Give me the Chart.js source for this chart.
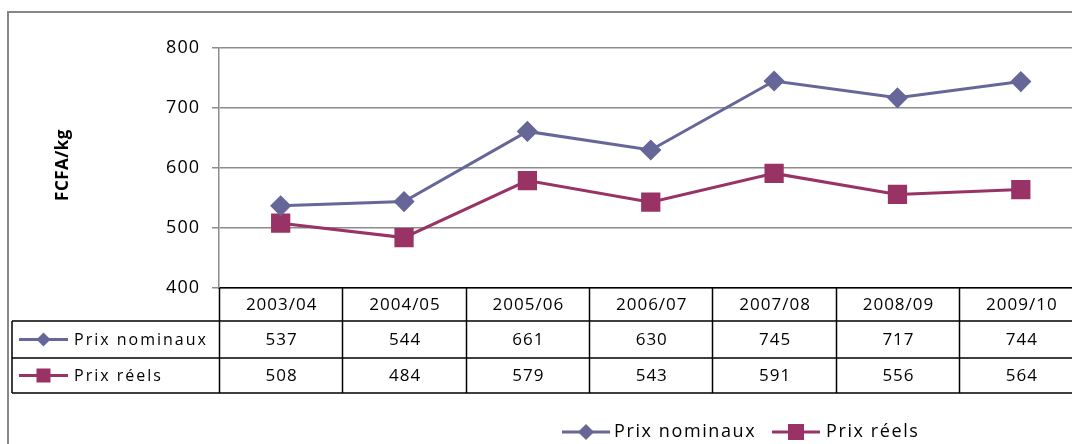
<!DOCTYPE html>
<html>
<head>
<meta charset="utf-8">
<script src="https://cdn.jsdelivr.net/npm/chart.js@4/dist/chart.umd.min.js"></script>
<style>
html,body{margin:0;padding:0;background:#fff;overflow:hidden;width:1072px;height:444px;}
#wrap{position:relative;width:1097px;height:444px;}
</style>
</head>
<body>
<div id="wrap"><canvas id="c" width="1097" height="444"></canvas></div>
<script>
const categories = ['2003/04','2004/05','2005/06','2006/07','2007/08','2008/09','2009/10'];
const nominalLabel = 'Prix nominaux';
const realLabel = 'Prix réels';
const nominal = [537,544,661,630,745,717,744];
const real = [508,484,579,543,591,556,564];
const yTitle = 'FCFA/kg';
const yMin = 400, yMax = 800, yStep = 100;

const NOM_COLOR = '#666699';
const REAL_COLOR = '#993366';
const FONT = '"Open Sans", "Liberation Sans", sans-serif';

function drawDiamond(ctx,x,y,r,color){
  ctx.save();ctx.fillStyle=color;ctx.beginPath();
  ctx.moveTo(x,y-r);ctx.lineTo(x+r,y);ctx.lineTo(x,y+r);ctx.lineTo(x-r,y);ctx.closePath();ctx.fill();ctx.restore();
}
function drawSquare(ctx,x,y,h,color){
  ctx.save();ctx.fillStyle=color;ctx.fillRect(x-h,y-h,2*h,2*h);ctx.restore();
}
function legendSample(ctx,x1,x2,y,color,type,r){
  ctx.save();ctx.strokeStyle=color;ctx.lineWidth=3;ctx.beginPath();ctx.moveTo(x1,y);ctx.lineTo(x2,y);ctx.stroke();ctx.restore();
  const cx=(x1+x2)/2;
  if(type==='d') drawDiamond(ctx,cx,y,r,color); else drawSquare(ctx,cx,y,r,color);
}

const spacingPlugin = {
  id:'spacingPlugin',
  beforeDraw(chart){ chart.ctx.letterSpacing='1px'; }
};

const tablePlugin = {
  id:'tablePlugin',
  afterDraw(chart){
    const ctx=chart.ctx, x=chart.scales.x, area=chart.chartArea;
    const rowTop=area.bottom, r1=321, r2=358, r3=393, tableLeft=12;
    const n=categories.length;
    const colW = x.getPixelForValue(1)-x.getPixelForValue(0);
    ctx.save();
    // outer chart border
    ctx.strokeStyle='#878787';ctx.lineWidth=2;
    ctx.beginPath();ctx.moveTo(8,460);ctx.lineTo(8,12);ctx.lineTo(1110,12);ctx.stroke();
    // table lines
    ctx.strokeStyle='#000';ctx.lineWidth=1.5;
    ctx.beginPath();
    ctx.moveTo(tableLeft,r1);ctx.lineTo(area.right+5,r1);
    ctx.moveTo(tableLeft,r2);ctx.lineTo(area.right+5,r2);
    ctx.moveTo(tableLeft,r3);ctx.lineTo(area.right+5,r3);
    ctx.moveTo(tableLeft,r1);ctx.lineTo(tableLeft,r3);
    for(let i=0;i<=n;i++){
      const px = i<n ? x.getPixelForValue(i)-colW/2 : x.getPixelForValue(n-1)+colW/2;
      ctx.moveTo(Math.round(px)+0.5,rowTop);ctx.lineTo(Math.round(px)+0.5,r3);
    }
    ctx.stroke();
    // text
    ctx.fillStyle='#000';ctx.textAlign='center';ctx.textBaseline='middle';
    ctx.font='17px '+FONT;ctx.letterSpacing='1px';
    for(let i=0;i<n;i++){
      const cx=x.getPixelForValue(i)+1;
      ctx.fillText(categories[i],cx,(rowTop+r1)/2+1);
      ctx.fillText(String(nominal[i]),cx,(r1+r2)/2+1);
      ctx.fillText(String(real[i]),cx,(r2+r3)/2+1);
    }
    // row labels
    legendSample(ctx,19,68,(r1+r2)/2,NOM_COLOR,'d',7);
    legendSample(ctx,19,68,(r2+r3)/2,REAL_COLOR,'s',7);
    ctx.textAlign='left';ctx.font='16px '+FONT;ctx.letterSpacing='2px';
    ctx.fillText(nominalLabel,74,(r1+r2)/2+1);
    ctx.fillText(realLabel,74,(r2+r3)/2+1);
    // bottom legend
    legendSample(ctx,562,610,432,NOM_COLOR,'d',8);
    legendSample(ctx,772,820,432,REAL_COLOR,'s',8);
    ctx.font='18px '+FONT;ctx.letterSpacing='1.6px';
    ctx.fillText(nominalLabel,614,432);
    ctx.fillText(realLabel,826,432);
    // y title
    ctx.save();ctx.translate(63,165);ctx.rotate(-Math.PI/2);
    ctx.textAlign='center';ctx.font='bold 17px '+FONT;ctx.letterSpacing='0.5px';ctx.fillText(yTitle,0,0);ctx.restore();
    ctx.restore();
  }
};

new Chart(document.getElementById('c'),{
  type:'line',
  data:{
    labels:categories,
    datasets:[
      {label:nominalLabel,data:nominal,borderColor:NOM_COLOR,backgroundColor:NOM_COLOR,borderWidth:3,pointStyle:'rectRot',pointRadius:8.5,pointHoverRadius:8.5,tension:0},
      {label:realLabel,data:real,borderColor:REAL_COLOR,backgroundColor:REAL_COLOR,borderWidth:3,pointStyle:'rect',pointRadius:11.5,pointHoverRadius:11.5,tension:0}
    ]
  },
  options:{
    responsive:false,animation:false,
    layout:{padding:{top:48,bottom:156,left:0,right:0}},
    plugins:{legend:{display:false},tooltip:{enabled:false}},
    scales:{
      x:{type:'category',offset:true,display:true,
        grid:{display:false,drawTicks:false},
        border:{display:true,color:'#000',width:1.5},
        ticks:{display:false},
        afterFit(s){s.height=0;}
      },
      y:{min:yMin,max:yMax,
        ticks:{stepSize:yStep,color:'#000',font:{size:18,family:FONT},padding:12},
        grid:{color:'#8c8c8c',lineWidth:1.5,tickLength:7},
        border:{color:'#8c8c8c',width:1.5},
        afterFit(s){s.width=219;}
      }
    }
  },
  plugins:[spacingPlugin,tablePlugin]
});
</script>
</body>
</html>
